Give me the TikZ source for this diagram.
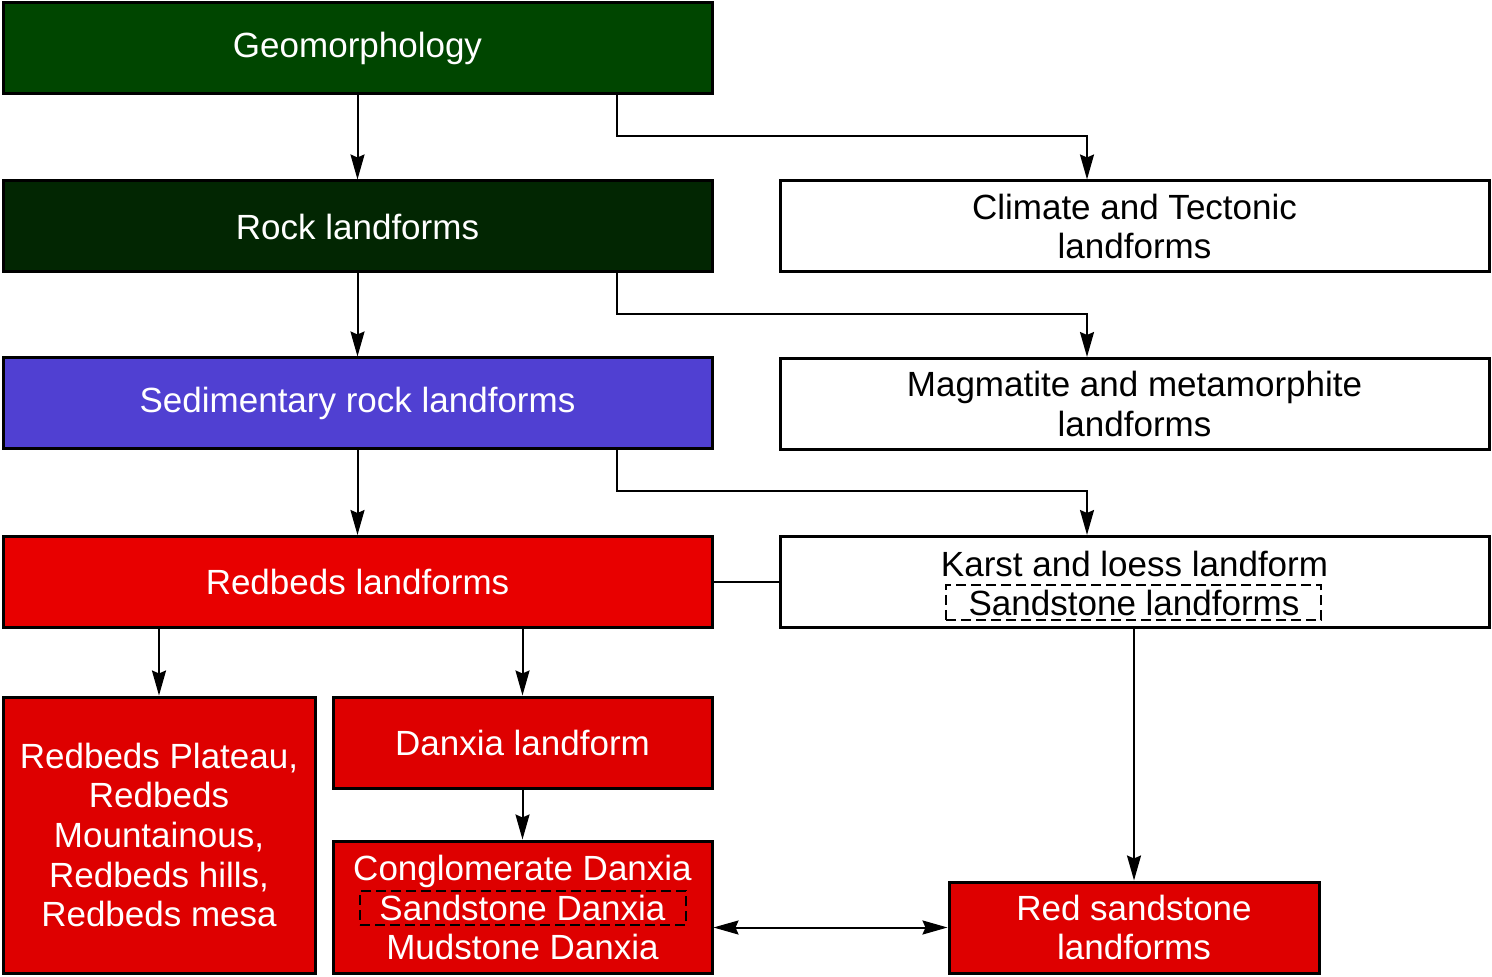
\documentclass[tikz,border=0pt]{standalone}
\usepackage{fontspec}
\setmainfont{Liberation Sans}
\usetikzlibrary{arrows.meta}

\definecolor{geogreen}{RGB}{0,70,0}
\definecolor{rockgreen}{RGB}{2,38,2}
\definecolor{sedblue}{RGB}{80,64,210}
\definecolor{bedred}{RGB}{232,0,0}
\definecolor{danred}{RGB}{222,0,0}

\tikzset{
  box/.style={draw=black, line width=1.5pt, inner sep=0pt, align=center,
    font=\fontsize{17.5}{19.8}\selectfont},
  wide/.style={minimum width=354.5pt, minimum height=45.5pt},
  line/.style={anchor=base, inner sep=0pt, font=\fontsize{17.5}{19.8}\selectfont},
  dashbox/.style={draw=black, dashed, dash pattern=on 5pt off 2.5pt, line width=0.8pt,
    inner sep=0pt, font=\fontsize{17.5}{19.8}\selectfont},
  arr/.style={line width=1pt, -{Stealth[length=12.5pt,width=7pt,inset=1.5pt]}},
  arrboth/.style={line width=1pt, {Stealth[length=12.5pt,width=7pt,inset=1.5pt]}-{Stealth[length=12.5pt,width=7pt,inset=1.5pt]}}
}

\begin{document}
\begin{tikzpicture}[x=0.5pt,y=-0.5pt]
\useasboundingbox (0,0) rectangle (1492,977);

% left column
\node[box,wide,fill=geogreen,text=white] (geo) at (357.5,48.5) {Geomorphology};
\node[box,wide,fill=rockgreen,text=white] (rock) at (357.5,226.5) {Rock landforms};
\node[box,wide,fill=sedblue,text=white] (sed) at (357.5,403.5) {Sedimentary rock landforms};
\node[box,wide,fill=bedred,text=white] (red) at (357.5,582) {Redbeds landforms};

% right column
\node[box,wide,fill=white] (clim) at (1134.5,226.5) {Climate and Tectonic\\landforms};
\node[box,wide,fill=white] (mag) at (1134.5,404) {Magmatite and metamorphite\\landforms};
\node[box,wide,fill=white] (karst) at (1134.5,582) {};
\node[line] (karsttxt) at (1134.5,576) {Karst and loess landform};
\node[dashbox,minimum width=187.5pt,minimum height=17.5pt] (sandst) at (1133.5,602.5) {};
\node[line] (sandsttxt) at (1134,615) {Sandstone landforms};

% bottom row
\node[box,fill=danred,text=white,minimum width=156pt,minimum height=138pt] (plateau) at (159,835)
  {Redbeds Plateau,\\Redbeds\\Mountainous,\\Redbeds hills,\\Redbeds mesa};
\node[box,fill=danred,text=white,minimum width=189.5pt,minimum height=45.5pt] (danxia) at (522.5,742.5) {Danxia landform};
\node[box,fill=danred,minimum width=189.5pt,minimum height=66pt] (cong) at (522.5,907) {};
\node[line,text=white] (congtxt) at (522.5,880) {Conglomerate Danxia};
\node[dashbox,minimum width=163pt,minimum height=17pt] (sdanxia) at (523,908) {};
\node[line,text=white] (sdanxiatxt) at (522.5,920) {Sandstone Danxia};
\node[line,text=white] (mudtxt) at (522.5,959) {Mudstone Danxia};
\node[box,fill=danred,text=white,minimum width=185pt,minimum height=45.5pt] (rss) at (1134,927.5) {Red sandstone\\landforms};

% connectors
\coordinate (sidex) at (617,0);
\coordinate (rightx) at (1087,0);
\draw[arr] (geo) -- (rock);
\draw[arr] (rock) -- (sed);
\draw[arr] (sed) -- (red);
\draw[arr] (geo.south -| sidex) -- ++(0,41) -| (clim.north -| rightx);
\draw[arr] (rock.south -| sidex) -- ++(0,41) -| (mag.north -| rightx);
\draw[arr] (sed.south -| sidex) -- ++(0,41) -| (karst.north -| rightx);
\draw[line width=1pt] (red.east) -- (karst.west);
\draw[arr] (red.south -| plateau.north) -- (plateau.north);
\draw[arr] (red.south -| danxia.north) -- (danxia.north);
\draw[arr] (danxia) -- (cong);
\draw[arr] (karst.south -| rss.north) -- (rss.north);
\draw[arrboth] (cong.east |- rss.west) -- (rss.west);
\end{tikzpicture}
\end{document}
